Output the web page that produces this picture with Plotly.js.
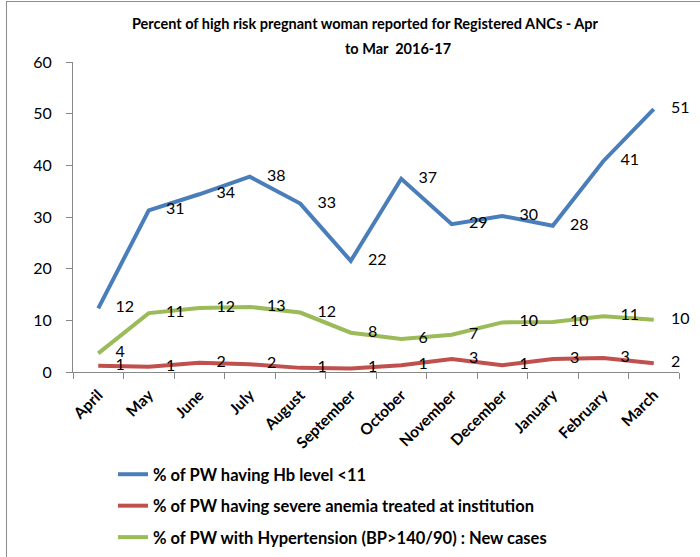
<!DOCTYPE html>
<html><head><meta charset="utf-8">
<script src="https://cdn.plot.ly/plotly-3.0.1.min.js"></script>
<style>
html,body{margin:0;padding:0;background:#fff;overflow:hidden;width:700px;height:557px;}
#frame{position:absolute;left:6px;top:1px;width:900px;height:900px;border:1.5px solid #8c8c8c;}
#chart{position:absolute;left:0;top:0;width:700px;height:557px;}
</style></head><body>
<div id="frame"></div>
<div id="chart"></div>
<script>
const months = ["April","May","June","July","August","September","October","November","December","January","February","March"];
const hbLow = [12.3, 31.3, 34.4, 37.8, 32.6, 21.5, 37.4, 28.6, 30.2, 28.3, 40.8, 50.9];
const severeAnemia = [1.2, 1.0, 1.8, 1.5, 0.8, 0.7, 1.3, 2.5, 1.3, 2.5, 2.7, 1.7];
const hypertension = [3.6, 11.4, 12.4, 12.6, 11.5, 7.6, 6.4, 7.2, 9.6, 9.7, 10.8, 10.1];
const seriesNames = ["% of PW having Hb level <11", "% of PW having severe anemia treated at institution", "% of PW with Hypertension (BP>140/90) : New cases"];
const titleLine1 = "Percent of high risk pregnant woman reported for Registered ANCs - Apr";
const titleLine2 = "to Mar\u00a0\u00a02016-17";

const FONT = "Lato, 'Open Sans', 'Liberation Sans', sans-serif";
function mk(y, name, color, grp) {
  return {
    x: months, y: y, name: name, type: "scatter", mode: "lines+markers+text",
    legendgroup: grp,
    line: {color: color, width: 4},
    marker: {size: 26, color: "rgba(0,0,0,0)", line: {width: 0}},
    text: y.map(v => String(Math.round(v))),
    textposition: "middle right",
    textfont: {family: FONT, size: 16, color: "#000"},
    cliponaxis: false,
    hoverinfo: "x+y+name"
  };
}
const data = [
  mk(hbLow, seriesNames[0], "#4A7EBB", "a"),
  mk(severeAnemia, seriesNames[1], "#C0504D", "b"),
  mk(hypertension, seriesNames[2], "#9BBB59", "c")
];
const layout = {
  width: 700, height: 557,
  margin: {l: 73, r: 21, t: 62, b: 185, autoexpand: false},
  paper_bgcolor: "rgba(0,0,0,0)", plot_bgcolor: "rgba(0,0,0,0)",
  font: {family: FONT, color: "#000"},
  title: {text: titleLine1, x: 365/700, xanchor: "center", xref: "container",
          y: 1 - 24/557, yanchor: "middle", yref: "container",
          font: {family: FONT, size: 14.5, weight: "bold", color: "#000"}},
  annotations: [{text: titleLine2, xref: "paper", yref: "paper",
    x: (398-73)/606, y: (372-48)/310, xanchor: "center", yanchor: "middle",
    showarrow: false, font: {family: FONT, size: 14.5, weight: "bold", color: "#000"}}],
  showlegend: true,
  legend: {orientation: "v", xref: "container", yref: "container",
           x: 113/700, xanchor: "left", y: 1 - 457/557, yanchor: "top",
           traceorder: "grouped", tracegroupgap: 7,
           font: {family: FONT, size: 16.5, weight: "bold", color: "#000"},
           bgcolor: "rgba(0,0,0,0)"},
  xaxis: {type: "category", range: [-0.5, 11.5], showline: true, linecolor: "#888", linewidth: 1,
          ticks: "outside", tickson: "boundaries", ticklen: 6, tickcolor: "#888",
          showgrid: false, zeroline: false, tickangle: -45, automargin: false,
          ticklabelstandoff: 7,
          tickfont: {family: FONT, size: 15.5, weight: "bold", color: "#000"}},
  yaxis: {range: [0, 60], dtick: 10, showline: true, linecolor: "#888", linewidth: 1,
          ticks: "outside", ticklen: 6, tickcolor: "#888", showgrid: false, zeroline: false,
          ticklabelstandoff: 11, automargin: false,
          tickfont: {family: FONT, size: 16, color: "#000"}}
};
Plotly.newPlot("chart", data, layout, {displayModeBar: false});
</script>
</body></html>
